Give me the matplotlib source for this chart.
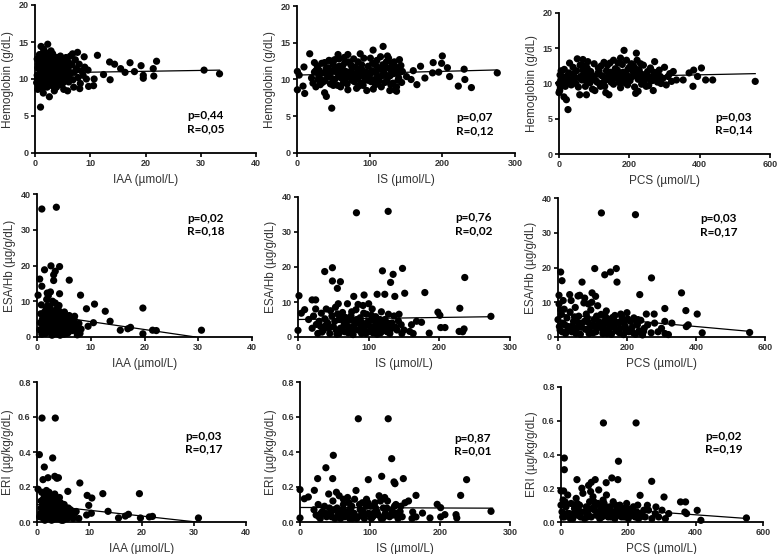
import numpy as np
import matplotlib
matplotlib.use("Agg")
import matplotlib.pyplot as plt

# ---- data (x, y) ----
hb_iaa = [(1.0,6.2),(2.6,7.6),(1.1,14.4),(2.3,14.7),(11.3,13.2),(7.7,13.6),(6.8,13.4),(8.9,13.0),(13.5,12.3),(14.4,12.0),
          (17.2,12.2),(22.0,12.4),(15.5,11.4),(19.2,11.8),(21.4,11.4),(12.4,10.6),(13.6,9.9),(16.3,10.9),(18.0,11.0),(19.6,10.5),
          (19.6,10.1),(21.5,10.4),(30.6,11.2),(33.4,10.7),(10.7,10.0),(9.7,9.0),(10.6,9.1),(8.1,8.7),(5.9,8.4),(3.5,8.4),(1.5,8.1),(0.5,8.6),
          (0.3,9.5),(0.4,10.5),(0.5,11.5),(0.6,12.0),(0.7,10.0),(0.8,9.2),(0.9,11.0),(1.0,12.5),(1.1,13.0),(1.2,10.3),(1.3,9.6),(1.4,11.8),
          (1.5,13.6),(1.6,12.2),(1.7,10.8),(1.8,9.4),(1.9,11.4),(2.0,12.8),(2.1,10.1),(2.2,8.9),(2.3,11.9),(2.4,13.2),(2.5,10.6),(2.6,9.8),
          (2.7,12.4),(2.8,11.2),(2.9,13.8),(3.0,10.4),(3.1,9.1),(3.2,12.0),(3.3,11.0),(3.4,13.0),(3.5,9.7),(3.6,11.6),(3.7,12.6),(3.8,10.2),
          (3.9,8.9),(4.0,11.3),(4.1,12.3),(4.2,10.7),(4.3,9.4),(4.5,11.9),(4.6,13.1),(4.7,10.0),(4.9,11.1),(5.0,12.5),(5.1,9.5),(5.3,10.6),
          (5.5,11.7),(5.6,12.9),(5.8,10.2),(6.0,11.3),(6.1,9.6),(6.3,12.1),(6.5,10.8),(6.7,11.9),(6.9,9.9),(7.1,10.9),(7.3,12.6),(7.5,11.4),
          (7.8,10.2),(8.0,12.0),(8.2,9.4),(8.4,11.1),(8.7,10.5),(9.0,11.6),(9.3,10.0),(9.6,11.2),(0.4,12.7),(0.8,13.3),(1.3,8.7),(1.6,14.0),
          (2.0,9.2),(2.4,10.9),(2.8,9.3),(3.2,13.4),(3.6,8.8),(4.4,12.7),(5.2,8.6),(5.9,12.4),(6.4,13.1),(7.0,8.9),(1.2,11.4),(1.9,12.1),
          (2.6,11.6),(3.3,10.3),(4.0,10.0),(4.8,11.8),(1.0,10.6),(1.5,10.0),(2.2,11.3),(2.9,10.0),(3.7,11.0),(4.4,11.4),(0.6,9.0),(3.0,12.9),
          (2.0,13.5),(5.4,10.0),(0.8,10.2),(1.1,11.7),(1.4,9.1),(1.7,12.6),(2.1,10.6),(2.5,12.1),(2.9,11.5),(3.4,11.7),(3.8,12.0),(4.2,9.8),
          (4.6,10.4),(5.0,11.0),(5.7,11.0),(1.4,10.7),(2.3,10.0),(3.1,11.4),(3.5,10.6),(0.5,10.0),(1.8,11.0),(2.7,10.8),(4.0,12.9),(6.2,10.5),
          (1.2,12.2),(2.4,9.5),(3.9,10.6),(4.8,9.2),(1.6,9.6),(3.0,9.6)]
hb_is = [(47.8,6.1),(0.5,8.6),(0.5,11.1),(3,10.6),(10.6,8.1),(8.3,9.1),(9.6,11.7),(17.5,13.5),(24,12.3),(38,8.2),(40.4,7.7),(56.5,13.4),
         (70,13.4),(87,13.5),(104.7,14.0),(118.5,14.5),(124.5,13.2),(141,12.7),(127.7,8.5),(134.6,8.6),(137,9.0),(145,11.1),(150.7,10.4),
         (157,10.0),(187.4,12.3),(200,13.2),(199,12.2),(176,10.2),(186.5,10.9),(207,11.6),(210,10.4),(222,9.1),(231,10.0),(230,11.4),
         (240,8.9),(275.6,10.9),(165,9.3),(170,11.8),(160,11.2),(195,11.0),
         (20,10.2),(22,9.5),(24,11.0),(26,9.0),(28,11.8),(30,10.5),(32,9.3),(34,12.2),(36,10.9),(38,9.8),(40,11.5),(42,10.3),(44,12.6),
         (46,9.4),(48,11.1),(50,12.0),(52,10.0),(54,11.6),(56,9.2),(58,12.8),(60,10.7),(62,11.4),(64,9.6),(66,12.3),(68,10.2),(70,8.6),
         (72,11.0),(74,12.0),(76,9.9),(78,10.8),(80,11.7),(82,8.8),(84,12.4),(86,10.4),(88,9.5),(90,11.3),(92,12.9),(94,10.0),(96,8.5),
         (98,11.8),(100,10.6),(102,9.7),(104,12.2),(106,11.0),(108,9.3),(110,12.6),(112,10.3),(114,11.5),(116,9.0),(118,12.0),(120,10.8),
         (122,11.7),(124,9.9),(126,12.9),(128,10.5),(130,11.2),(132,9.5),(134,12.4),(136,10.9),(138,11.6),(140,10.2),(142,11.0),(144,9.6),
         (26,11.2),(33,10.0),(45,10.7),(52,12.7),(57,10.4),(63,11.9),(69,9.4),(75,10.5),(83,10.2),(89,12.0),(95,11.0),(101,12.9),(107,10.0),
         (113,9.8),(119,11.1),(125,10.4),(131,12.2),(137,8.4),(60,9.0),(85,9.1),(105,8.7),(78,12.8),(65,13.0),(47,12.5),(38,12.3),(115,13.1),
         (30,11.3),(35,9.6),(41,10.8),(49,10.1),(55,11.0),(61,10.2),(67,11.1),(73,10.4),(79,9.7),(81,10.6),(87,11.0),(93,10.5),(97,9.9),
         (103,11.2),(109,10.9),(111,11.6),(117,10.5),(121,9.6),(127,11.5),(133,10.8),(139,9.9),(143,11.9),(50,9.2),(66,10.8),(84,11.4),
         (99,10.2),(123,12.4),(29,10.0),(43,11.6),(58,11.8),(71,12.4),(91,9.2),(108,12.0),(129,9.3),(135,11.7),(76,11.6)]
hb_pcs = [(25.6,6.3),(21,7.7),(14,8.1),(0,8.7),(4,9.5),(185,14.7),(220,14.3),(222,13.3),(558,10.3),(394,11.0),(405,12.2),(383,11.9),
          (381,9.6),(417,10.5),(437,10.5),(353,10.5),(370,11.5),(334,10.5),(325,11.7),(268,9.0),(272,13.1),(218,8.6),(225,8.9),(30,12.9),
          (52,13.5),(68,13.4),(59,8.4),(78,8.4),(133,8.7),(142,8.4),(0,10.0),(2,9.0),(5,10.5),(3,11.2),(8,9.8),(300,12.3),(290,10.0),(310,11.0),
          (10,11.0),(15,12.0),(20,10.3),(28,11.5),(35,9.8),(40,12.3),(45,10.8),(50,11.8),(55,9.5),(60,12.6),(65,10.5),(70,11.3),(75,9.6),
          (80,12.2),(85,10.9),(90,11.7),(95,9.2),(100,12.8),(105,10.4),(110,11.4),(115,10.0),(120,12.5),(125,11.0),(130,9.6),(135,11.8),
          (140,10.6),(145,12.9),(150,11.2),(155,9.9),(160,12.1),(165,10.7),(170,11.5),(175,9.4),(180,12.7),(185,10.5),(190,11.3),(195,9.8),
          (200,12.3),(205,10.9),(210,11.8),(215,9.5),(220,12.0),(225,10.6),(230,11.4),(235,9.9),(240,12.6),(245,10.8),(250,11.1),(255,9.7),
          (260,12.2),(265,10.4),(270,11.6),(280,10.2),(285,11.9),(295,10.7),(305,9.8),(315,11.4),(320,10.3),
          (38,10.6),(62,11.0),(88,10.1),(112,12.2),(128,13.0),(148,10.2),(168,12.9),(192,13.3),(208,11.0),(232,12.8),(248,9.6),(262,10.9),
          (278,11.3),(98,11.0),(118,9.6),(138,12.6),(158,10.9),(178,10.9),(198,11.0),(82,13.1),(72,12.5),(102,9.0),(155,13.3),(175,13.6),
          (212,12.5),(242,10.2),(12,10.2),(24,11.1),(42,11.4),(58,10.8),(78,10.4),(92,10.6),(108,10.2),(122,11.1),(132,10.5),(142,11.3),
          (152,10.6),(162,11.4),(172,10.1),(182,11.6),(188,10.1),(202,10.4),(218,11.1),(228,11.9),(238,10.8),(252,11.7),(258,10.6),
          (275,10.7),(288,11.0),(48,10.0),(68,11.9),(86,11.6),(114,11.8),(146,11.6),(166,11.9),(196,12.0),(206,12.8),(236,11.3),(18,9.6),
          (6,11.8),(30,10.2),(126,10.1)]
esa_iaa = [(0.9,35.8),(3.6,36.3),(0.2,11.7),(0.5,16.2),(0.9,14.2),(1.4,18.8),(2.6,19.9),(3.1,17.4),(3.1,15.8),(3.4,18.4),(4.2,19.7),
           (6.0,15.9),(4.2,12.1),(2.5,12.6),(1.9,12.3),(8.1,11.7),(9.2,7.9),(10.7,9.2),(12.7,7.2),(19.7,8.1),(13.6,4.4),(10.5,4.0),
           (15.5,1.9),(16.9,2.3),(17.4,2.7),(19.7,0.9),(21.5,1.9),(22.2,1.8),(30.6,1.9),(9.5,3.0),(8.0,1.0),
           (0.5,2.0),(0.8,9.0),(1.0,5.0),(1.2,1.0),(1.4,7.0),(1.6,3.5),(1.8,10.5),(2.0,6.0),(2.2,2.5),(2.4,8.5),(2.6,4.5),(2.8,0.5),
           (3.0,6.8),(3.2,3.0),(3.4,9.5),(3.6,5.5),(3.8,1.5),(4.0,7.5),(4.2,4.0),(4.4,2.0),(4.6,6.5),(4.8,3.2),(5.0,0.8),(5.2,5.2),
           (5.4,2.6),(5.6,4.4),(5.8,1.2),(6.0,6.0),(6.3,3.5),(6.6,1.8),(6.9,4.8),(7.2,2.8),(7.5,0.6),(7.8,3.8),(8.2,2.2),(1.1,3.0),
           (1.5,5.8),(1.9,1.8),(2.3,4.0),(2.7,7.2),(3.1,1.0),(3.5,3.8),(3.9,6.2),(4.3,0.5),(4.7,4.5),(5.1,7.0),(5.5,1.0),(0.7,6.5),
           (2.1,11.5),(2.9,10.0),(1.7,8.0),(4.1,8.8),(0.9,0.8),(2.5,1.2),(3.3,2.0),(1.3,4.2),(6.1,2.4),(7.0,5.8),(3.7,4.8),(2.0,3.0),
           (1.0,2.2),(1.6,1.0),(2.2,5.2),(2.6,2.8),(3.0,4.2),(3.4,1.2),(3.8,3.0),(4.4,5.4),(4.9,1.8),(5.3,3.6),(1.3,6.2),(2.4,6.8),
           (3.6,7.8),(4.6,2.6),(2.9,3.4),(1.8,4.8),(3.2,5.6),(4.0,2.8),(5.8,4.8),(6.5,5.2),(0.6,4.0),(2.0,8.8),(1.5,2.6),(3.9,0.9),
           (2.7,1.9),(5.0,5.9),(6.8,3.4),(7.4,1.6)]
esa_is = [(82.7,35.5),(127.6,35.9),(37.8,18.7),(48.7,19.8),(48.7,16.0),(55.7,13.9),(60,15.8),(119.5,18.9),(134.6,17.9),(131,15.6),
          (147.9,19.6),(236,17.0),(78.9,11.6),(93.5,12.0),(112,12.2),(122.8,12.2),(137,11.6),(151,12.5),(179.5,12.7),(1.4,11.8),(0,1.9),
          (4.7,6.8),(9.4,7.8),(20,10.6),(25,10.6),(229,8.2),(273,5.9),(198,7.1),(200.8,6.2),(202,2.7),(208,2.7),(235,2.3),(233,1.5),
          (228,1.6),(185.7,1.1),(160.6,3.5),(167.7,4.5),(174.8,4.2),(158,1.6),(163,1.0),
          (15,5.0),(20,2.5),(25,8.0),(28,1.0),(30,4.5),(33,6.8),(36,2.0),(40,8.0),(42,4.0),(45,1.0),(48,6.0),(50,3.0),(53,8.5),(55,0.8),
          (58,5.0),(60,2.5),(63,7.0),(66,1.5),(68,4.0),(70,9.5),(72,2.8),(75,6.0),(78,0.7),(80,4.5),(82,7.8),(85,2.0),(88,5.5),(90,1.0),
          (92,9.0),(95,3.5),(97,6.5),(100,1.5),(103,4.8),(105,8.0),(108,2.5),(110,5.8),(112,0.8),(115,3.8),(118,7.2),(120,1.8),(123,5.0),
          (125,2.8),(128,6.5),(130,1.0),(133,4.0),(136,6.0),(140,2.0),(143,6.5),(146,3.5),(150,2.0),(22,6.0),(38,5.2),(52,4.5),(65,3.2),
          (73,4.8),(87,3.8),(98,4.2),(113,2.2),(127,4.0),(138,2.8),(32,3.0),(62,5.8),(77,2.0),(93,6.8),(107,3.0),(117,1.2),(46,7.5),
          (57,9.5),(85,9.3),(100,9.5),(26,3.6),(34,1.4),(44,2.6),(54,2.0),(58,1.0),(67,5.6),(71,1.2),(79,3.2),(83,5.0),(91,2.6),
          (96,1.0),(102,3.0),(106,1.2),(111,4.2),(116,5.0),(121,3.4),(126,1.5),(132,2.4),(142,4.6),(147,1.0),(40,3.5),(64,4.6),
          (76,7.2),(89,4.4),(104,6.2),(119,2.6),(56,6.6),(94,2.0)]
esa_pcs = [(125.8,35.7),(224.5,35.2),(106.5,19.7),(135.5,17.9),(152,18.7),(169,19.7),(171,15.8),(7.7,18.7),(11.6,16.2),(69.7,15.8),
           (271,17.0),(237,12.2),(358,12.7),(2.9,12.0),(33.9,12.2),(62.9,12.0),(77.4,11.2),(98.7,12.7),(109,11.7),(370.6,7.6),(403.5,6.6),
           (309.7,8.2),(256,6.6),(278.7,6.6),(418,1.2),(555.5,1.3),(377.4,3.5),(372,3.0),(309.7,4.5),(330,4.0),(290,1.5),(310,1.0),(320,0.7),
           (0,5.0),(3,9.5),(6,2.0),(10,6.5),(14,4.0),(18,8.0),(22,1.0),(26,5.5),(30,3.0),(35,7.2),(40,1.5),(45,4.5),(50,8.5),(55,2.5),
           (60,6.0),(65,0.8),(70,4.0),(75,9.8),(80,2.2),(85,5.5),(90,1.0),(95,7.8),(100,3.5),(105,5.0),(110,1.5),(115,9.0),(120,3.0),
           (125,6.5),(130,1.0),(135,4.5),(140,7.5),(145,2.0),(150,5.0),(155,0.8),(160,3.5),(165,6.2),(170,1.8),(175,4.0),(180,2.5),
           (185,5.8),(190,0.7),(195,3.0),(200,7.0),(205,1.5),(210,4.5),(215,2.8),(220,5.5),(225,0.8),(230,3.5),(235,1.8),(240,4.8),
           (245,0.6),(250,2.5),(260,3.5),(270,1.2),(280,4.0),(300,2.5),(20,3.5),(48,5.8),(68,2.8),(88,4.2),(108,3.0),(128,2.4),(148,3.8),
           (168,2.2),(188,4.5),(208,2.0),(228,4.0),(8,7.8),(38,10.5),(58,11.8),(88,9.5),(98,10.0),(15,10.5),
           (4,3.0),(12,1.5),(28,2.0),(42,3.2),(52,1.0),(62,3.4),(78,4.6),(92,2.6),(102,1.2),(118,4.4),(132,3.2),(142,1.0),(152,2.6),
           (162,4.8),(178,1.2),(192,4.0),(202,5.2),(218,1.2),(232,5.0),(248,1.6),(112,6.0),(138,5.8),(158,5.6),(182,6.6),(82,6.6),
           (124,4.0),(196,2.2),(58,4.2)]
eri_iaa = [(0.96,0.594),(3.5,0.594),(0.45,0.385),(3.0,0.366),(1.4,0.314),(1.15,0.242),(2.1,0.253),(3.4,0.261),(4.1,0.253),(3.8,0.25),
           (8.2,0.223),(5.9,0.175),(9.6,0.152),(10.5,0.137),(12.6,0.162),(19.6,0.162),(9.9,0.095),(13.6,0.061),(9.5,0.04),(10.4,0.05),
           (15.6,0.023),(16.9,0.034),(17.5,0.044),(19.8,0.023),(21.5,0.029),(22.1,0.032),(30.9,0.023),(0.2,0.187),(8.0,0.02),(7.5,0.06),
           (0.5,0.03),(0.8,0.12),(1.0,0.07),(1.2,0.02),(1.4,0.15),(1.6,0.05),(1.8,0.18),(2.0,0.09),(2.2,0.03),(2.4,0.13),(2.6,0.06),
           (2.8,0.01),(3.0,0.10),(3.2,0.04),(3.4,0.16),(3.6,0.08),(3.8,0.02),(4.0,0.12),(4.2,0.05),(4.4,0.09),(4.6,0.03),(4.8,0.07),
           (5.0,0.01),(5.2,0.10),(5.4,0.04),(5.6,0.06),(5.8,0.02),(6.0,0.08),(6.3,0.04),(6.6,0.06),(6.9,0.02),(7.2,0.05),(1.1,0.10),
           (1.5,0.01),(1.9,0.06),(2.3,0.17),(2.7,0.11),(3.1,0.07),(3.5,0.02),(3.9,0.06),(4.3,0.14),(4.7,0.01),(5.1,0.05),(5.5,0.08),
           (0.7,0.05),(1.3,0.04),(1.7,0.12),(2.1,0.14),(2.5,0.03),(2.9,0.05),(3.3,0.12),(3.7,0.10),(4.1,0.03),(4.5,0.11),(4.9,0.04),
           (6.1,0.03),(0.9,0.17),(2.0,0.025),(3.0,0.035),(4.0,0.08),
           (1.0,0.03),(1.6,0.09),(2.2,0.06),(2.6,0.09),(3.2,0.08),(3.6,0.05),(4.2,0.02),(4.6,0.06),(5.2,0.03),(5.8,0.05),(1.2,0.13),
           (2.0,0.16),(2.8,0.14),(3.4,0.04),(3.8,0.13),(4.4,0.04),(5.0,0.09),(6.4,0.07),(0.8,0.08),(1.8,0.03),(2.4,0.10),(3.0,0.015)]
eri_is = [(83.3,0.59),(126,0.59),(131,0.362),(47.6,0.381),(37,0.31),(25.2,0.248),(46.7,0.248),(97.6,0.242),(116.7,0.261),(134.3,0.229),
          (135.7,0.219),(147.6,0.248),(238,0.242),(229.5,0.152),(0,0.185),(0,0.023),(6.2,0.133),(11.9,0.143),(20.5,0.181),(165.7,0.152),
          (196,0.101),(200.9,0.082),(272.9,0.061),(201,0.029),(207,0.042),(222.9,0.042),(224,0.023),(185.7,0.023),(165.7,0.029),(161,0.057),
          (175,0.051),(155,0.12),(150,0.11),(160,0.02),
          (20,0.07),(23,0.04),(26,0.10),(29,0.02),(32,0.06),(35,0.09),(38,0.03),(41,0.16),(44,0.05),(47,0.12),(50,0.02),(53,0.08),
          (56,0.15),(59,0.04),(62,0.10),(65,0.06),(68,0.14),(71,0.02),(74,0.09),(77,0.05),(80,0.18),(83,0.03),(86,0.07),(89,0.11),
          (92,0.02),(95,0.13),(98,0.05),(101,0.09),(104,0.03),(107,0.11),(110,0.06),(113,0.15),(116,0.02),(119,0.08),(122,0.05),
          (125,0.12),(128,0.03),(131,0.07),(134,0.04),(137,0.10),(140,0.02),(143,0.06),(146,0.03),(30,0.05),(45,0.03),(60,0.07),
          (75,0.02),(90,0.06),(105,0.05),(120,0.03),(135,0.09),(52,0.17),(78,0.13),(100,0.04),(115,0.12),(64,0.03),(88,0.04),
          (112,0.04),(55,0.06),(70,0.11),(95,0.09),
          (27,0.03),(36,0.05),(48,0.07),(58,0.02),(67,0.04),(73,0.06),(81,0.02),(85,0.10),(93,0.04),(102,0.02),(108,0.08),(118,0.02),
          (124,0.08),(130,0.04),(138,0.05),(144,0.09),(62,0.13),(72,0.08),(97,0.11),(121,0.14),(42,0.08),(54,0.04)]
eri_pcs = [(126,0.587),(223,0.587),(9.9,0.379),(9.9,0.31),(170.7,0.36),(47.4,0.251),(101.6,0.251),(151,0.261),(168.8,0.251),
           (134.2,0.233),(269.4,0.241),(81.9,0.217),(90,0.235),(0,0.184),(7.9,0.184),(234.9,0.158),(306,0.148),(355,0.119),(370,0.119),
           (404.6,0.069),(415.5,0.01),(550.7,0.024),(368,0.059),(373,0.05),(256.6,0.099),(282,0.089),(300,0.07),(320,0.05),(290,0.03),
           (310,0.02),
           (0,0.10),(3,0.06),(6,0.13),(10,0.03),(15,0.09),(20,0.16),(25,0.05),(30,0.11),(35,0.02),(40,0.08),(45,0.14),(50,0.04),
           (55,0.10),(60,0.06),(65,0.17),(70,0.02),(75,0.09),(80,0.05),(85,0.12),(90,0.03),(95,0.15),(100,0.07),(105,0.04),(110,0.11),
           (115,0.02),(120,0.08),(125,0.13),(130,0.05),(135,0.16),(140,0.03),(145,0.09),(150,0.06),(155,0.12),(160,0.02),(165,0.07),
           (170,0.04),(175,0.10),(180,0.03),(185,0.08),(190,0.05),(195,0.11),(200,0.02),(205,0.07),(210,0.04),(215,0.09),(220,0.03),
           (225,0.06),(230,0.02),(240,0.05),(250,0.03),(260,0.07),(270,0.02),(280,0.05),(12,0.12),(28,0.02),(52,0.07),(78,0.03),
           (102,0.10),(118,0.05),(148,0.03),(172,0.06),(198,0.08),(228,0.10),(62,0.20),(88,0.18),(112,0.19),(138,0.07),
           (5,0.03),(18,0.05),(38,0.05),(58,0.03),(72,0.06),(92,0.08),(108,0.06),(122,0.03),(132,0.09),(142,0.06),(158,0.04),
           (178,0.06),(188,0.03),(208,0.05),(218,0.06),(236,0.03),(246,0.07),(98,0.12),(128,0.11),(162,0.10),(48,0.11),(82,0.08)]

# regression lines (start, end) as drawn
hb_iaa_fit = [(0, 10.8), (33.4, 11.2)]
hb_is_fit = [(0, 10.6), (275, 11.3)]
hb_pcs_fit = [(0, 10.8), (558, 11.4)]
esa_iaa_fit = [(0, 6.5), (29.5, 0.0)]
esa_is_fit = [(0, 5.0), (275, 5.8)]
esa_pcs_fit = [(0, 6.6), (558, 1.6)]
eri_iaa_fit = [(0, 0.10), (30.5, 0.0)]
eri_is_fit = [(0, 0.083), (275, 0.079)]
eri_pcs_fit = [(0, 0.10), (558, 0.02)]

stats = [("p=0,44", "R=0,05"), ("p=0,07", "R=0,12"), ("p=0,03", "R=0,14"),
         ("p=0,02", "R=0,18"), ("p=0,76", "R=0,02"), ("p=0,03", "R=0,17"),
         ("p=0,03", "R=0,17"), ("p=0,87", "R=0,01"), ("p=0,02", "R=0,19")]

xlabels = ["IAA (µmol/L)", "IS (µmol/L)", "PCS (µmol/L)"]
ylabels = ["Hemoglobin (g/dL)", "ESA/Hb (µg/g/dL)", "ERI (µg/kg/g/dL)"]
xmax = [40, 300, 600]
xstep = [10, 100, 200]
ymax = [20, 40, 0.8]
ystep = [5, 10, 0.2]

panels = [[hb_iaa, hb_is, hb_pcs], [esa_iaa, esa_is, esa_pcs], [eri_iaa, eri_is, eri_pcs]]
fits = [[hb_iaa_fit, hb_is_fit, hb_pcs_fit], [esa_iaa_fit, esa_is_fit, esa_pcs_fit],
        [eri_iaa_fit, eri_is_fit, eri_pcs_fit]]

# axes boxes in pixels: left, right, top, bottom
boxes = [[(35, 256, 5, 153), (297, 515, 6, 153), (559, 770, 13, 154)],
         [(37, 252, 194, 337), (298, 510, 197, 337), (558, 765, 198, 337)],
         [(37, 246, 382, 522), (300, 510, 382, 522), (561, 763, 387, 522)]]
# p/R text position (axes fraction)
txt_pos = [[(0.69, 0.25), (0.73, 0.24), (0.74, 0.26)],
           [(0.70, 0.83), (0.74, 0.85), (0.686, 0.85)],
           [(0.71, 0.61), (0.735, 0.60), (0.713, 0.63)]]

W, H = 778, 554
fig = plt.figure(figsize=(W / 100, H / 100), dpi=100)
plt.rcParams['font.family'] = ['Liberation Sans', 'DejaVu Sans']
grey = "#333333"

for r in range(3):
    for c in range(3):
        l, rr, t, b = boxes[r][c]
        ax = fig.add_axes([l / W, 1 - b / H, (rr - l) / W, (b - t) / H])
        pts = np.array(panels[r][c])
        ax.scatter(pts[:, 0], pts[:, 1], s=27, color="black", edgecolors="none", zorder=3, clip_on=False)
        f = np.array(fits[r][c])
        ax.plot(f[:, 0], f[:, 1], color="black", lw=0.9, zorder=4)
        ax.set_xlim(0, xmax[c])
        ax.set_ylim(0, ymax[r])
        ax.set_xticks(np.arange(0, xmax[c] + xstep[c] / 2, xstep[c]))
        ax.set_yticks(np.arange(0, ymax[r] + ystep[r] / 2, ystep[r]))
        if r == 2:
            ax.set_yticklabels(["%.1f" % v for v in np.arange(0, ymax[r] + ystep[r] / 2, ystep[r])])
        for s in ["top", "right"]:
            ax.spines[s].set_visible(False)
        for s in ["left", "bottom"]:
            ax.spines[s].set_linewidth(1.3)
        ax.tick_params(direction="out", length=3, width=1.2, labelsize=6.5, colors="black",
                       labelcolor=grey, pad=1.5)
        for lab in ax.get_xticklabels() + ax.get_yticklabels():
            lab.set_fontweight("bold")
        ax.set_xlabel(xlabels[c], fontsize=8.5, color=grey, labelpad=4)
        ax.set_ylabel(ylabels[r], fontsize=8.5, color=grey, labelpad=3)
        tx, ty = txt_pos[r][c]
        ax.text(tx, ty, stats[r * 3 + c][0], transform=ax.transAxes, fontsize=8.5,
                family=["Lato", "DejaVu Sans"], fontweight="bold", va="center", ha="left")
        ax.text(tx, ty - 0.09, stats[r * 3 + c][1], transform=ax.transAxes, fontsize=8.5,
                family=["Lato", "DejaVu Sans"], fontweight="bold", va="center", ha="left")

fig.savefig("out.png", dpi=100)
